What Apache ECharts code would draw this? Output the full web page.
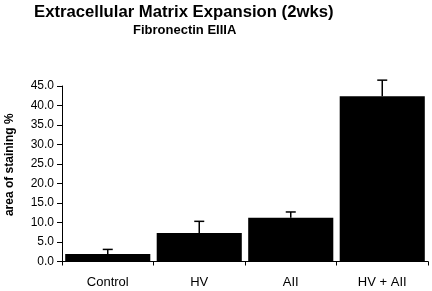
<!DOCTYPE html>
<html><head><meta charset="utf-8">
<script src="https://cdn.jsdelivr.net/npm/echarts@6/dist/echarts.min.js"></script>
<style>html,body{margin:0;padding:0;background:#fff}#c{width:432px;height:291px}</style>
</head><body><div id="c"></div>
<script>
var categories = ['Control', 'HV', 'AII', 'HV + AII'];
var means = [1.9, 7.3, 11.2, 42.4];
var errors = [1.2, 3.0, 1.5, 4.1];
var yTicks = [0, 5, 10, 15, 20, 25, 30, 35, 40, 45];

var chart = echarts.init(document.getElementById('c'));
var font = '"Liberation Sans", Arial, sans-serif';
chart.setOption({
  animation: false,
  title: [
    {text: 'Extracellular Matrix Expansion (2wks)', left: 34, top: 4, padding: 0,
     textStyle: {fontFamily: font, fontWeight: 'bold', fontSize: 16.7, color: '#000'}},
    {text: 'Fibronectin EIIIA', left: 133, top: 24, padding: 0,
     textStyle: {fontFamily: font, fontWeight: 'bold', fontSize: 13, color: '#000'}}
  ],
  grid: {left: 62, right: 4, top: 86, bottom: 29.5, outerBoundsMode: 'none', containLabel: false},
  xAxis: {
    type: 'category', data: categories,
    axisLine: {lineStyle: {color: '#000', width: 1}},
    axisTick: {show: true, length: 4, lineStyle: {color: '#000'}},
    axisLabel: {fontFamily: font, fontSize: 13, color: '#000', margin: 14}
  },
  yAxis: {
    type: 'value', min: yTicks[0], max: yTicks[yTicks.length - 1], interval: 5,
    name: 'area of staining %', nameLocation: 'middle', nameGap: 46, nameRotate: 90,
    nameTextStyle: {fontFamily: font, fontWeight: 'bold', fontSize: 12, color: '#000', padding: [0, 0, 0, 18]},
    axisLine: {show: true, lineStyle: {color: '#000'}},
    axisTick: {show: true, length: 5, lineStyle: {color: '#000'}},
    splitLine: {show: false},
    axisLabel: {fontFamily: font, fontSize: 12, color: '#000', margin: 8,
      formatter: function (v) { return v.toFixed(1); }}
  },
  series: [
    {type: 'bar', data: means, barCategoryGap: '7%', itemStyle: {color: '#000'}},
    {type: 'custom', z: 5,
     data: means.map(function (m, i) { return [i, m, m + errors[i]]; }),
     renderItem: function (params, api) {
       var base = api.coord([api.value(0), api.value(1)]);
       var top = api.coord([api.value(0), api.value(2)]);
       var hw = 5;
       return {type: 'group', children: [
         {type: 'line', shape: {x1: top[0], y1: base[1], x2: top[0], y2: top[1]}, style: {stroke: '#000', lineWidth: 1.5}},
         {type: 'line', shape: {x1: top[0] - hw, y1: top[1], x2: top[0] + hw, y2: top[1]}, style: {stroke: '#000', lineWidth: 1.5}}
       ]};
     }}
  ]
});
</script></body></html>
